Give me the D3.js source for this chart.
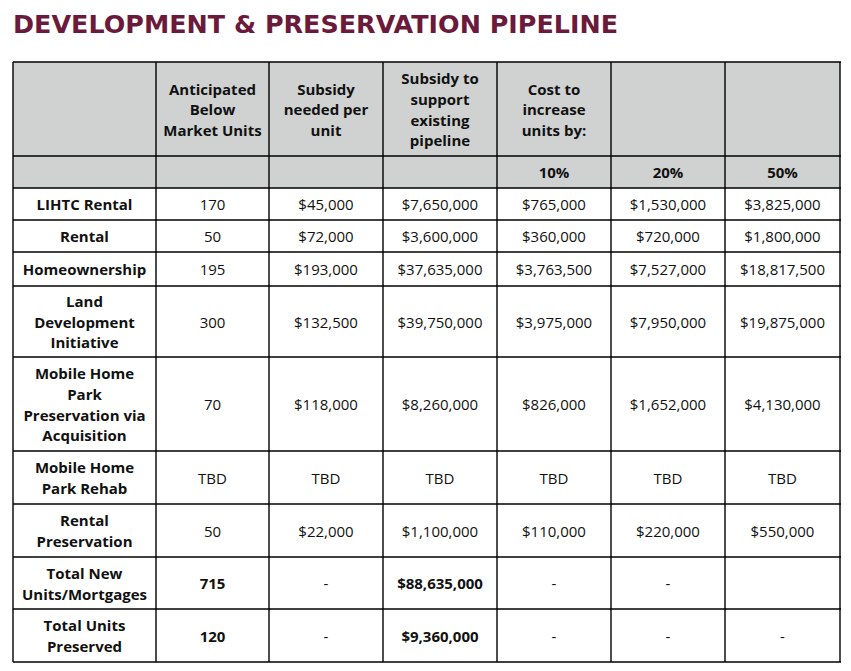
<!DOCTYPE html>
<html><head><meta charset="utf-8">
<script src="https://cdn.jsdelivr.net/npm/d3@7"></script>
<style>html,body{margin:0;padding:0;background:#fff;}svg{display:block;}</style>
</head><body>
<script>
// ---- data ----
const title = "DEVELOPMENT & PRESERVATION PIPELINE";
const headerTop = [[], ["Anticipated","Below","Market Units"], ["Subsidy","needed per","unit"], ["Subsidy to","support","existing","pipeline"], ["Cost to","increase","units by:"], [], []];
const headerSub = ["", "", "", "", "10%", "20%", "50%"];
const rowLabels = [["LIHTC Rental"],["Rental"],["Homeownership"],["Land","Development","Initiative"],["Mobile Home","Park","Preservation via","Acquisition"],["Mobile Home","Park Rehab"],["Rental","Preservation"],["Total New","Units/Mortgages"],["Total Units","Preserved"]];
const units = ["170","50","195","300","70","TBD","50","715","120"];
const subsidyPerUnit = ["$45,000","$72,000","$193,000","$132,500","$118,000","TBD","$22,000","-","-"];
const subsidyPipeline = ["$7,650,000","$3,600,000","$37,635,000","$39,750,000","$8,260,000","TBD","$1,100,000","$88,635,000","$9,360,000"];
const increase10 = ["$765,000","$360,000","$3,763,500","$3,975,000","$826,000","TBD","$110,000","-","-"];
const increase20 = ["$1,530,000","$720,000","$7,527,000","$7,950,000","$1,652,000","TBD","$220,000","-","-"];
const increase50 = ["$3,825,000","$1,800,000","$18,817,500","$19,875,000","$4,130,000","TBD","$550,000","","-"];
const boldRows = [7, 8];

// ---- layout ----
const W = 851, H = 671;
const colEdges = [13, 156, 269, 383, 497, 611, 725, 840];
const rowEdges = [62, 156, 188, 220, 252, 286, 357, 451, 504, 557, 609, 662];
const lineH = 20.6;
const fontFam = "'Open Sans', 'Noto Sans', sans-serif";

const svg = d3.select("body").append("svg").attr("width", W).attr("height", H);
svg.append("rect").attr("width", W).attr("height", H).attr("fill", "#fff");

svg.append("text").attr("x", 13).attr("y", 33)
  .attr("font-family", "'DejaVu Sans', sans-serif").attr("font-weight", 700)
  .attr("font-size", 24.5).attr("fill", "#6b1a3b")
  .attr("textLength", 605).attr("lengthAdjust", "spacingAndGlyphs")
  .text(title);

const x = i => colEdges[i], cw = i => colEdges[i+1] - colEdges[i];
const y = r => rowEdges[r], rh = r => rowEdges[r+1] - rowEdges[r];

// header background
svg.append("rect").attr("x", colEdges[0]).attr("y", rowEdges[0])
  .attr("width", colEdges[7] - colEdges[0]).attr("height", rowEdges[2] - rowEdges[0])
  .attr("fill", "#d0d1d1");

function cellText(lines, ci, ri, bold) {
  const cx = x(ci) + cw(ci) / 2;
  const cy = y(ri) + rh(ri) / 2 + 1;
  const t = svg.append("text").attr("font-family", fontFam).attr("font-size", 15)
    .attr("font-weight", bold ? 700 : 400).attr("fill", "#111").attr("text-anchor", "middle");
  const n = lines.length;
  lines.forEach((l, k) => {
    t.append("tspan").attr("x", cx).attr("y", cy + (k - (n - 1) / 2) * lineH)
      .attr("dy", "0.35em").text(l);
  });
}

headerTop.forEach((lines, ci) => cellText(lines, ci, 0, true));
headerSub.forEach((s, ci) => cellText([s], ci, 1, true));

const body = [units, subsidyPerUnit, subsidyPipeline, increase10, increase20, increase50];
rowLabels.forEach((lab, i) => {
  const ri = i + 2;
  cellText(lab, 0, ri, true);
  body.forEach((arr, j) => {
    const bold = boldRows.includes(i) && (j === 0 || j === 2);
    cellText([arr[i]], j + 1, ri, bold);
  });
});

// grid lines
const g = svg.append("g").attr("stroke", "#000").attr("stroke-width", 1.4);
g.selectAll(".h").data(rowEdges).enter().append("line")
  .attr("x1", colEdges[0]).attr("x2", colEdges[7] + 1).attr("y1", d => d).attr("y2", d => d);
g.selectAll(".v").data(colEdges).enter().append("line")
  .attr("y1", rowEdges[0]).attr("y2", rowEdges[rowEdges.length - 1]).attr("x1", d => d).attr("x2", d => d);
</script>
</body></html>
